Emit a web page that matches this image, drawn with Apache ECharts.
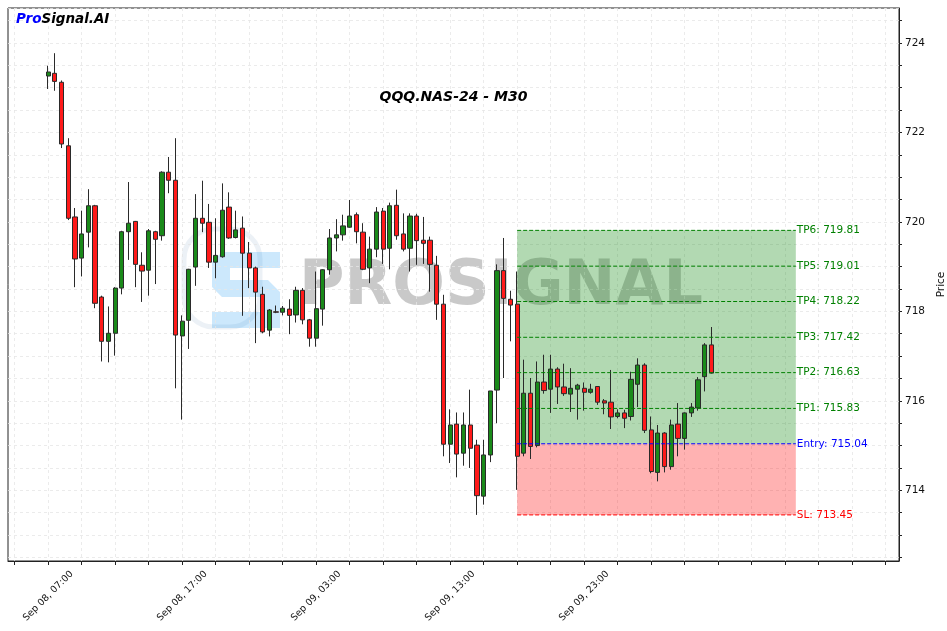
<!DOCTYPE html>
<html>
<head>
<meta charset="utf-8">
<script src="https://cdn.jsdelivr.net/npm/echarts@6/dist/echarts.min.js"></script>
<style>html,body{margin:0;padding:0;background:#fff;}#main{width:947px;height:631px;}</style>
</head>
<body>
<div id="main"></div>
<script>
// ---- data (30-min bars, bar 0 = Sep 08, 07:00) ----
const opens  = [723.26,723.32,723.12,721.70,720.11,719.19,719.77,720.36,718.32,717.33,
                717.51,718.52,719.78,720.01,719.03,718.92,719.78,719.69,721.11,720.93,
                717.45,717.80,718.99,720.08,719.99,719.10,719.22,720.33,719.65,719.86,
                719.30,718.97,718.38,717.58,717.99,717.98,718.05,717.92,718.47,717.81,
                717.40,718.05,718.93,719.64,719.71,719.88,720.16,719.77,718.97,719.39,
                720.24,719.41,720.37,719.73,719.41,720.13,719.59,719.59,719.03,718.16,
                715.03,715.48,714.83,715.46,715.01,713.87,714.79,716.24,718.91,718.27,
                718.16,714.83,716.17,715.00,716.42,716.26,716.71,716.31,716.15,716.26,
                716.28,716.19,716.32,716.00,715.97,715.65,715.73,715.65,716.37,716.80,
                715.35,714.40,715.28,714.53,715.48,715.16,715.73,715.84,716.54,717.25];
const highs  = [723.49,723.77,723.16,721.87,720.31,720.25,720.73,720.38,718.35,718.11,
                718.54,719.80,720.89,720.02,719.32,719.84,719.80,721.13,721.45,721.87,
                717.91,718.95,720.62,720.92,720.40,720.08,720.86,720.66,720.25,720.12,
                719.55,719.00,718.55,718.05,718.13,718.12,718.27,718.55,718.52,717.83,
                718.89,718.94,719.84,720.06,720.16,720.49,720.21,719.97,719.67,720.33,
                720.31,720.43,720.72,720.19,720.19,720.18,720.11,719.67,719.24,718.37,
                715.81,715.74,715.74,716.25,715.13,715.13,716.22,719.05,719.64,718.46,
                718.89,716.92,716.51,716.88,717.03,717.03,716.75,716.83,716.73,716.38,
                716.41,716.38,716.33,716.04,716.69,715.81,715.80,716.65,716.95,716.84,
                715.65,715.46,715.30,715.58,715.95,715.74,715.95,716.53,717.29,717.65];
const lows   = [722.97,722.93,721.65,720.04,718.54,718.78,719.43,718.07,716.88,716.86,
                717.01,718.38,719.15,718.54,718.21,718.35,718.61,719.58,720.64,716.28,
                715.58,717.16,718.57,719.77,718.97,718.74,719.20,719.62,719.63,717.90,
                718.52,717.29,717.51,717.44,717.96,717.91,717.49,717.75,717.71,717.21,
                717.21,717.68,718.82,719.34,719.58,719.87,719.52,718.92,718.63,719.21,
                719.06,718.94,719.60,719.34,718.89,719.04,719.06,718.44,717.81,714.76,
                714.61,714.29,714.55,714.50,713.45,713.68,714.63,715.50,716.51,717.33,
                714.01,714.76,714.70,714.96,716.16,715.73,715.93,716.11,715.75,715.58,
                715.78,716.16,715.91,715.70,715.37,715.61,715.39,715.56,715.86,715.28,
                714.38,714.20,714.40,714.46,714.76,714.91,715.64,715.78,716.21,716.61];
const closes = [723.35,723.14,721.74,720.08,719.17,719.73,720.36,718.18,717.33,717.51,
                718.52,719.78,719.97,719.05,718.90,719.80,719.61,721.11,720.93,717.47,
                717.78,718.94,720.08,719.97,719.10,719.25,720.26,719.64,719.82,719.30,
                718.97,718.43,717.54,718.03,717.98,718.07,717.91,718.47,717.81,717.40,
                718.06,718.93,719.64,719.71,719.91,720.13,719.78,718.94,719.39,720.22,
                719.39,720.36,719.69,719.39,720.13,719.58,719.52,719.05,718.16,715.03,
                715.46,714.81,715.46,714.94,713.88,714.79,716.22,718.91,718.29,718.14,
                714.76,716.17,714.98,716.42,716.23,716.71,716.31,716.16,716.28,716.35,
                716.19,716.26,715.97,715.95,715.64,715.73,715.61,716.48,716.80,715.34,
                714.42,715.28,714.53,715.46,715.16,715.73,715.86,716.47,717.25,716.62];

const levelNames  = ['TP6','TP5','TP4','TP3','TP2','TP1','Entry','SL'];
const levelValues = [719.81,719.01,718.22,717.42,716.63,715.83,715.04,713.45];
const tickLabels  = ['Sep 08, 07:00','Sep 08, 17:00','Sep 09, 03:00','Sep 09, 13:00','Sep 09, 23:00'];
const yTickLabels = [714,716,718,720,722,724];
const tradeStartBar = 70;
const tradeEndBar = 111.6;

// ---- axis categories: 30-min slots from Sep 08 04:00 (bar -6) to bar 127 ----
const FIRST_BAR = -6, LAST_BAR = 127;
const categories = [];
for (let b = FIRST_BAR; b <= LAST_BAR; b++) {
  const mins = 7 * 60 + b * 30;
  const day = 8 + Math.floor(mins / 1440);
  const m = ((mins % 1440) + 1440) % 1440;
  const hh = String(Math.floor(m / 60)).padStart(2, '0');
  const mm = String(m % 60).padStart(2, '0');
  categories.push('Sep ' + String(day).padStart(2, '0') + ', ' + hh + ':' + mm);
}
const candleData = opens.map((o, i) => [i - FIRST_BAR, o, closes[i], lows[i], highs[i]]);

const FONT = 'DejaVu Sans';
const gridStyle = { color: '#e6e6e6', type: [3, 3], width: 0.8 };
const everyFive = (idx) => (idx + FIRST_BAR) % 5 === 0;

const levelColors = { TP: '#008000', Entry: '#0000ff', SL: '#ff0000' };
const levelSeries = levelNames.map((n, k) => {
  const col = n.startsWith('TP') ? levelColors.TP : levelColors[n];
  return {
    type: 'line', xAxisIndex: 1, yAxisIndex: 0, z: 6, silent: true,
    symbol: 'none', animation: false,
    data: [[tradeStartBar, levelValues[k]], [tradeEndBar, levelValues[k]]],
    lineStyle: { color: col, width: 1, type: [4, 2] },
    endLabel: { show: true, distance: 1, color: col, fontFamily: FONT, fontSize: 10.5,
      formatter: () => n + ': ' + levelValues[k].toFixed(2) }
  };
});

const chart = echarts.init(document.getElementById('main'), null, { renderer: 'canvas' });
chart.setOption({
  backgroundColor: '#ffffff',
  animation: false,
  grid: { left: 8, right: 48, top: 8, bottom: 70, containLabel: false, outerBoundsMode: 'none',
    show: true, borderColor: '#222', borderWidth: 1, backgroundColor: 'transparent' },
  xAxis: [{
    type: 'category', data: categories, boundaryGap: false,
    axisLine: { show: true, onZero: false, lineStyle: { color: '#222', width: 1 } },
    axisTick: { show: true, length: 4, interval: (idx) => everyFive(idx), lineStyle: { color: '#222' } },
    axisLabel: { show: true, rotate: 45, align: 'center', verticalAlign: 'middle', margin: 35,
      fontFamily: FONT, fontSize: 9.5, color: '#111',
      interval: (idx, val) => tickLabels.indexOf(val) >= 0 },
    splitLine: { show: true, interval: (idx) => everyFive(idx), lineStyle: gridStyle }
  }, {
    type: 'value', min: FIRST_BAR, max: LAST_BAR, show: false
  }],
  yAxis: [{
    type: 'value', position: 'right', min: 712.42, max: 724.78, splitNumber: 24, scale: true,
    name: 'Price', nameLocation: 'middle', nameRotate: 90, nameGap: 30,
    nameTextStyle: { fontFamily: FONT, fontSize: 10.5, color: '#111' },
    axisLine: { show: true, onZero: false, lineStyle: { color: '#222', width: 1 } },
    axisTick: { show: true, length: 3, lineStyle: { color: '#222' } },
    axisLabel: { fontFamily: FONT, fontSize: 10.5, color: '#111', margin: 6, showMinLabel: false, showMaxLabel: false,
      formatter: (v) => { const r = Math.round(v); return (Math.abs(v - r) < 1e-6 && yTickLabels.indexOf(r) >= 0) ? String(r) : ''; } },
    splitLine: { show: true, lineStyle: gridStyle }
  }],
  series: [{
    type: 'candlestick', xAxisIndex: 0, yAxisIndex: 0, z: 3, silent: true,
    data: candleData, encode: { x: 0, y: [1, 2, 3, 4] }, barWidth: '70%',
    itemStyle: { color: '#1a8a1a', color0: '#ff1a1a', borderColor: '#2a2a2a', borderColor0: '#2a2a2a', borderWidth: 1 }
  }, {
    type: 'line', xAxisIndex: 1, yAxisIndex: 0, z: 5, silent: true, symbol: 'none', data: [],
    markArea: { silent: true, data: [
      [{ coord: [tradeStartBar, levelValues[0]], itemStyle: { color: 'rgba(0,128,0,0.3)' } }, { coord: [tradeEndBar, levelValues[6]] }],
      [{ coord: [tradeStartBar, levelValues[6]], itemStyle: { color: 'rgba(255,0,0,0.3)' } }, { coord: [tradeEndBar, levelValues[7]] }]
    ] }
  }].concat(levelSeries),
  graphic: [
    { type: 'rect', z: 0, shape: { x: 184, y: 229, width: 76, height: 98, r: 30 },
      style: { fill: 'none', stroke: 'rgba(200,215,230,0.35)', lineWidth: 5 } },
    { type: 'polygon', z: 0, shape: { points: [[222,252],[280,252],[280,268],[230,268],[230,280],[268,280],[280,292],
        [280,328],[212,328],[212,312],[262,312],[262,297],[222,297],[212,287],[212,262]] },
      style: { fill: 'rgba(0,140,240,0.2)' } },
    { type: 'text', z: 0, x: 501, y: 288, style: { text: 'PROSIGNAL', fontFamily: FONT, fontWeight: 'bold', fontSize: 62,
        fill: 'rgba(100,100,100,0.35)', align: 'center', verticalAlign: 'middle' } },
    { type: 'text', z: 100, x: 453.5, y: 97, style: { text: 'QQQ.NAS-24 - M30', fontFamily: FONT, fontWeight: 'bold', fontStyle: 'italic',
        fontSize: 14, fill: '#000', align: 'center', verticalAlign: 'middle' } },
    { type: 'text', z: 100, x: 16, y: 19, style: { text: '{a|Pro}{b|Signal.AI}', verticalAlign: 'middle',
        rich: { a: { fontFamily: FONT, fontWeight: 'bold', fontStyle: 'italic', fontSize: 13.5, fill: '#0000ff', color: '#0000ff' },
                b: { fontFamily: FONT, fontWeight: 'bold', fontStyle: 'italic', fontSize: 13.5, fill: '#000', color: '#000' } } } }
  ]
});
</script>
</body>
</html>
